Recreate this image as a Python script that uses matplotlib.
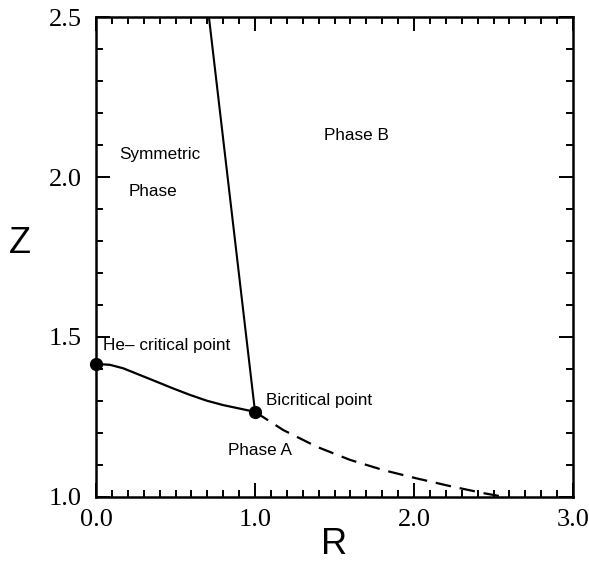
import numpy as np
import matplotlib as mpl
mpl.use('Agg')
import matplotlib.pyplot as plt
from matplotlib.ticker import MultipleLocator, FormatStrFormatter

# phase boundaries
r_upper = [0.71, 1.0]
z_upper = [2.5, 1.266]

r_solid = [0.0, 0.088, 0.172, 0.277, 0.382, 0.486, 0.591, 0.696, 0.801, 0.906, 1.0]
z_solid = [1.416, 1.413, 1.402, 1.381, 1.360, 1.339, 1.319, 1.301, 1.287, 1.276, 1.266]

r_dash = [1.0, 1.178, 1.388, 1.597, 1.807, 2.017, 2.226, 2.436, 2.57]
z_dash = [1.266, 1.209, 1.157, 1.116, 1.084, 1.058, 1.034, 1.012, 1.0]

r_pts = [0.0, 1.0]
z_pts = [1.416, 1.266]

fig = plt.figure(figsize=(5.89, 5.62), dpi=100)
ax = fig.add_axes([0.163, 0.1157, 0.810, 0.854])

ax.plot(r_upper, z_upper, 'k-', lw=1.5)
ax.plot(r_solid, z_solid, 'k-', lw=1.6)
ax.plot(r_dash, z_dash, 'k-', lw=1.6, dashes=(7, 4))
ax.plot(r_pts, z_pts, 'ko', ms=8.5, clip_on=False, zorder=5)

sans = 'Liberation Sans'
fs = 12.3
ax.text(0.40, 2.069, 'Symmetric', ha='center', va='center', fontsize=fs, family=sans)
ax.text(0.36, 1.956, 'Phase', ha='center', va='center', fontsize=fs, family=sans)
ax.text(1.64, 2.131, 'Phase B', ha='center', va='center', fontsize=fs, family=sans)
ax.text(0.044, 1.472, 'He\u2013 critical point', ha='left', va='center', fontsize=fs, family=sans)
ax.text(1.07, 1.303, 'Bicritical point', ha='left', va='center', fontsize=fs, family=sans)
ax.text(1.03, 1.144, 'Phase A', ha='center', va='center', fontsize=fs, family=sans)

ax.set_xlim(0, 3)
ax.set_ylim(1.0, 2.5)
ax.xaxis.set_major_locator(MultipleLocator(1.0))
ax.xaxis.set_minor_locator(MultipleLocator(0.1))
ax.yaxis.set_major_locator(MultipleLocator(0.5))
ax.yaxis.set_minor_locator(MultipleLocator(0.1))
ax.xaxis.set_major_formatter(FormatStrFormatter('%.1f'))
ax.yaxis.set_major_formatter(FormatStrFormatter('%.1f'))
ax.tick_params(which='both', direction='in', top=True, right=True, width=1.4)
ax.tick_params(which='major', length=10, labelsize=19)
ax.tick_params(axis='x', which='major', pad=9)
ax.tick_params(axis='y', which='major', pad=10)
ax.tick_params(which='minor', length=5)
for lab in ax.get_xticklabels() + ax.get_yticklabels():
    lab.set_family('Liberation Serif')
for s in ax.spines.values():
    s.set_linewidth(1.8)

ax.set_xlabel('R', fontsize=26, family=sans, va='center')
ax.xaxis.set_label_coords(0.5, -0.1)
ax.set_ylabel('Z', fontsize=26, family=sans, rotation=0, va='center', ha='center')
ax.yaxis.set_label_coords(-0.16, 0.529)

fig.savefig('out.png', dpi=100)
